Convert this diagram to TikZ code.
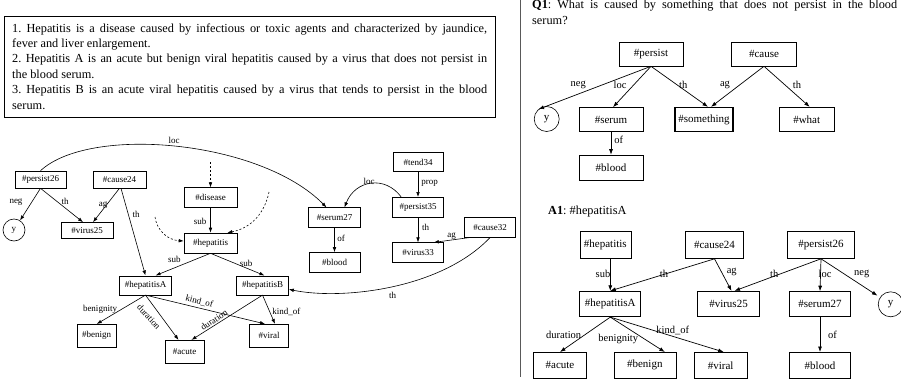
\documentclass[tikz,border=0pt]{standalone}
\usepackage{fontspec}
\setmainfont{Liberation Serif}
\usetikzlibrary{arrows.meta}
\frenchspacing
\begin{document}
\begin{tikzpicture}[x=1pt,y=-1pt,
  bx/.style={draw, rectangle, inner sep=0pt, line width=0.6pt},
  tbx/.style={line width=1.25pt},
  lf/.style={font=\fontsize{9}{10}\selectfont},
  rf/.style={font=\fontsize{11}{12}\selectfont},
  sz/.style 2 args={minimum width=#1pt, minimum height=#2pt},
  circ/.style={draw, circle, inner sep=0pt, line width=0.6pt},
  arr/.style={-{Latex[length=5pt,width=3.6pt]}, line width=0.6pt},
  rarr/.style={-{Latex[length=5.5pt,width=4pt]}, line width=0.7pt},
  dsh/.style={arr, dash pattern=on 2pt off 2pt},
  ll/.style={font=\fontsize{9}{10}\selectfont, inner sep=0pt},
  rl/.style={font=\fontsize{10.5}{12}\selectfont, inner sep=0pt},
  txt/.style={anchor=base west, inner sep=0pt, font=\fontsize{12.3}{15}\selectfont},
]
\fill[white] (0,0) rectangle (901,383);
\useasboundingbox (0,0) rectangle (901,383);

% ---------- sentence box ----------
\node[draw, line width=0.6pt, minimum width=491pt, minimum height=101pt, inner sep=0pt, anchor=north west] (tbox) at (4,16) {};
\node[txt] (t1) at (12,32) {\makebox[475pt][s]{1. Hepatitis is a disease caused by infectious or toxic agents and characterized by jaundice,}};
\node[txt] (t2) at (12,47.4) {fever and liver enlargement.};
\node[txt] (t3) at (12,62.8) {\makebox[475pt][s]{2. Hepatitis A is an acute but benign viral hepatitis caused by a virus that does not persist in}};
\node[txt] (t4) at (12,78.2) {the blood serum.};
\node[txt] (t5) at (12,93.6) {\makebox[475pt][s]{3. Hepatitis B is an acute viral hepatitis caused by a virus that tends to persist in the blood}};
\node[txt] (t6) at (12,109) {serum.};

% ---------- left graph ----------
\node[bx,lf,sz={51}{17}] (p26) at (40.5,179.5) {\#persist26};
\node[bx,lf,sz={53}{17}] (c24) at (119.5,179.5) {\#cause24};
\node[circ,lf,minimum size=22pt] (y1) at (14,230) {y};
\node[bx,lf,sz={52}{16}] (v25) at (87,230.5) {\#virus25};
\node[bx,lf,sz={53}{20}] (dis) at (210.5,197.7) {\#disease};
\node[bx,lf,sz={53}{20}] (hep) at (210.5,243) {\#hepatitis};
\node[bx,lf,sz={52}{20}] (s27) at (334.5,217.7) {\#serum27};
\node[bx,lf,sz={51}{20}] (bl) at (334.5,262.5) {\#blood};
\node[bx,lf,sz={50}{19}] (t34) at (418,162) {\#tend34};
\node[bx,lf,sz={51}{20}] (p35) at (418,207.3) {\#persist35};
\node[bx,lf,sz={51}{20}] (v33) at (418,252.7) {\#virus33};
\node[bx,lf,sz={51}{20}] (c32) at (490,227.3) {\#cause32};
\node[bx,lf,sz={52}{19}] (hA) at (145.5,285.3) {\#hepatitisA};
\node[bx,lf,sz={52}{19}] (hB) at (262.5,285.3) {\#hepatitisB};
\node[bx,lf,sz={39}{23}] (bn) at (96.7,335.8) {\#benign};
\node[bx,lf,sz={39}{23}] (ac) at (184.5,351.7) {\#acute};
\node[bx,lf,sz={39}{23}] (vi) at (269,335.7) {\#viral};

\coordinate (d1) at (210.5,162);
\coordinate (d2) at (155,217);
\coordinate (d3) at (269,192);

\draw[arr] (p26.south) -- (y1) node[ll] at (16,202) {neg};
\draw[arr] (p26.south) -- ([xshift=-4pt]v25.north) node[ll] at (65,201) {th};
\draw[arr] (c24.south) -- ([xshift=6pt]v25.north) node[ll] at (103,205) {ag};
\draw[arr] ([xshift=1.5pt]c24.south) -- (hA.north) node[ll] at (136,214) {th};
\draw[arr] (p26.north) .. controls (90,125) and (260,140) .. ([xshift=-8pt]s27.north) node[ll] at (174,140) {loc};
\draw[arr] (dis) -- (hep) node[ll] at (200,221) {sub};
\draw[dsh] (d1) -- (dis.north);
\draw[dsh] (d2) .. controls (157,231) and (168,240) .. ([yshift=2pt]hep.west);
\draw[dsh] (d3) .. controls (265,212) and (252,228) .. ([xshift=-10pt]hep.north east);
\draw[arr] (hep.south) -- ([xshift=10pt]hA.north) node[ll] at (174.3,259.7) {sub};
\draw[arr] (hep.south) -- ([xshift=2pt]hB.north) node[ll] at (246,263.7) {sub};
\draw[arr] (s27) -- (bl) node[ll] at (341,238) {of};
\draw[arr] (t34) -- (p35) node[ll] at (429.7,183) {prop};
\draw[arr] ([xshift=9pt]p35.north west) .. controls (385,175) and (355,180) .. ([xshift=10pt]s27.north) node[ll] at (369,181.5) {loc};
\draw[arr] (p35) -- (v33) node[ll] at (425.5,227.7) {th};
\draw[arr] ([xshift=5pt]c32.south west) -- ([xshift=-10pt]v33.north east) node[ll] at (451.7,236.5) {ag};
\draw[arr] (c32.south) .. controls (440,290) and (340,300) .. ([yshift=-4pt]hB.east) node[ll] at (392.7,295.5) {th};
\draw[arr] (hA.south) -- (bn.north) node[ll] at (100,309.7) {benignity};
\draw[arr] (hA.south) -- ([xshift=-6pt]ac.north) node[ll, rotate=-48] at (149,317) {duration};
\draw[arr] (hA.south) -- ([xshift=-4pt]vi.north) node[ll, rotate=-15] at (199.3,301.5) {kind\_of};
\draw[arr] (hB.south) -- ([xshift=7pt]ac.north) node[ll, rotate=33] at (214,320) {duration};
\draw[arr] (hB.south) -- ([xshift=6pt]vi.north) node[ll] at (286.3,312) {kind\_of};

% ---------- separator ----------
\draw[black!65, line width=0.9pt] (520.6,0) -- (520.6,377);

% ---------- Q1 ----------
\node[txt] (q1a) at (532,8) {\makebox[365pt][s]{\textbf{Q1}: What is caused by something that does not persist in the blood}};
\node[txt] (q1b) at (532,24) {serum?};

\node[bx,rf,sz={64}{24}] (qp) at (651,54) {\#persist};
\node[bx,rf,sz={65}{24}] (qc) at (764,54) {\#cause};
\node[circ,rf,minimum size=25pt] (qy) at (546.7,119) {y};
\node[bx,rf,sz={64}{24}] (qs) at (611,119.5) {\#serum};
\node[bx,rf,tbx,sz={58}{24}] (qsm) at (704,119.5) {\#something};
\node[bx,rf,tbx,sz={55}{24}] (qw) at (806.7,119.5) {\#what};
\node[bx,rf,sz={64}{25}] (qb) at (611,167.5) {\#blood};

\draw[rarr] (qp.south) -- (qy.130) node[rl] at (578.3,85) {neg};
\draw[rarr] (qp.south) -- ([xshift=2pt]qs.north) node[rl] at (620,85) {loc};
\draw[rarr] (qp.south) -- ([xshift=4pt]qsm.north) node[rl] at (683.3,85) {th};
\draw[rarr] (qc.south) -- ([xshift=7pt]qsm.north) node[rl] at (725,85) {ag};
\draw[rarr] (qc.south) -- ([xshift=3pt]qw.north) node[rl] at (797,85) {th};
\draw[rarr] (qs) -- (qb) node[rl] at (618.7,140) {of};

% ---------- A1 ----------
\node[txt] (a1) at (548,214) {\textbf{A1}: \#hepatitisA};

\node[bx,rf,sz={51}{27}] (ah) at (605.3,245) {\#hepatitis};
\node[bx,rf,sz={58}{27}] (ac24) at (714.5,245) {\#cause24};
\node[bx,rf,sz={67}{27}] (ap26) at (821,245) {\#persist26};
\node[bx,rf,tbx,sz={61}{25}] (ahA) at (610.3,304) {\#hepatitisA};
\node[bx,rf,tbx,sz={62}{25}] (av25) at (728.5,304) {\#virus25};
\node[bx,rf,sz={61}{25}] (as27) at (820,304) {\#serum27};
\node[circ,rf,minimum size=25pt] (ay) at (890.7,304.3) {y};
\node[bx,rf,sz={53}{26}] (aac) at (560,365.3) {\#acute};
\node[bx,rf,sz={62}{26}] (abn) at (644.8,365.3) {\#benign};
\node[bx,rf,sz={53}{26}] (avi) at (720.7,365.3) {\#viral};
\node[bx,rf,sz={61}{26}] (abl) at (820,365.3) {\#blood};

\draw[rarr] (ahA.north |- ah.south) -- (ahA.north) node[rl] at (603,274) {sub};
\draw[rarr] (ac24.south) -- (ahA.north) node[rl] at (664,274) {th};
\draw[rarr] (ac24.south) -- ([xshift=3pt]av25.north) node[rl] at (731.7,272) {ag};
\draw[rarr] (ap26.south) -- ([xshift=6pt]av25.north) node[rl] at (774.3,274) {th};
\draw[rarr] (ap26.south) -- (as27.north) node[rl] at (825,274) {loc};
\draw[rarr, shorten >=3pt] (ap26.south) -- (ay) node[rl] at (861.7,274) {neg};
\draw[rarr] (as27) -- (abl) node[rl] at (832.5,335) {of};
\draw[rarr] (ahA.south) -- (aac.north) node[rl] at (563.7,335) {duration};
\draw[rarr] (ahA.south) -- ([xshift=20pt]abn.north) node[rl] at (618.3,339) {benignity};
\draw[rarr] (ahA.south) -- ([xshift=3pt]avi.north) node[rl] at (672.7,330) {kind\_of};
\end{tikzpicture}
\end{document}
